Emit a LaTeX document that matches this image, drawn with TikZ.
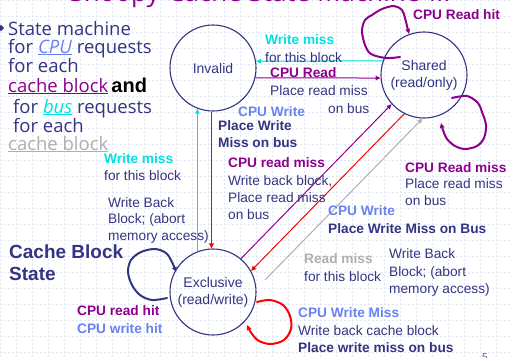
\documentclass[tikz,border=0pt]{standalone}
\usepackage{fontspec}
\setmainfont{Liberation Sans}
\newfontfamily\handfont{Open Sans}
\usetikzlibrary{arrows.meta,shapes.geometric}
\definecolor{navy}{RGB}{52,52,130}
\definecolor{plum}{RGB}{140,0,140}
\definecolor{aqua}{RGB}{0,225,225}
\definecolor{sky}{RGB}{105,130,240}
\definecolor{ash}{RGB}{175,175,175}
\definecolor{gridc}{RGB}{225,230,246}

\begin{document}
\begin{tikzpicture}[x=1pt,y=-1pt,
  lbl/.style={anchor=base west, inner sep=0, text=navy, font=\fontsize{13.7}{16}\selectfont},
  lblb/.style={lbl, font=\fontsize{13.7}{16}\selectfont\bfseries},
  hand/.style={anchor=base west, inner sep=0, text=navy, font=\handfont\fontsize{18.5}{20}\selectfont},
  state/.style={circle, draw=navy, line width=1.1pt, minimum size=86pt, inner sep=0pt,
    align=center, text=navy, font=\fontsize{14}{17}\selectfont},
  tip/.style={-{Triangle[length=5pt,width=4.5pt]}},
  edge/.style={tip, line width=1pt},
  loopline/.style={tip, line width=2pt, line cap=round, line join=round},
]
% page and background grid
\fill[white] (0,0) rectangle (511,357);
\useasboundingbox (0,0) rectangle (511,357);
\begin{scope}
  \clip (0,0) rectangle (511,357);
  \draw[gridc, line width=0.6pt, dash pattern=on 2pt off 2pt] (0,0) grid[step=16pt] (511,357);
  % slide title, only its lower part shows
  \node[anchor=base, inner sep=0, text=plum, font=\handfont\fontsize{26}{26}\selectfont]
    (title) at (260,1) {Snoopy-Cache State Machine-III};
  \node[anchor=base west, inner sep=0, text=navy!80, font=\fontsize{10}{10}\selectfont]
    (pagenum) at (482,360) {5};
\end{scope}

% description on the left
\node[diamond, fill=navy, inner sep=1.6pt] (bullet) at (1,28) {};
\node[hand] (l1) at (8,35) {State machine};
\node[hand] (l2) at (8,53) {for \textcolor{sky}{\underline{\textit{CPU}}} requests};
\node[hand] (l3) at (8,72) {for each};
\node[hand] (l4) at (8,92) {\textcolor{plum}{\underline{cache block}}\,\textcolor{black}{\normalfont\bfseries\fontsize{20}{20}\selectfont and}};
\node[hand] (l5) at (13,113) {for \textcolor{aqua}{\underline{\textit{bus}}} requests};
\node[hand] (l6) at (13,132) {for each};
\node[hand, text=ash] (l7) at (8,150) {\underline{cache block}};
\node[anchor=base west, inner sep=0, text=navy, font=\bfseries\fontsize{19}{22}\selectfont]
  (cbs1) at (9,258) {Cache Block};
\node[anchor=base west, inner sep=0, text=navy, font=\bfseries\fontsize{19}{22}\selectfont]
  (cbs2) at (9,280) {State};

% the three states
\node[state] (inv) at (213,68) {Invalid};
\node[state] (sh) at (424,75) {Shared\\(read/only)};
\node[state] (ex) at (213,292) {Exclusive\\(read/write)};

% transitions between states
\draw[edge, aqua] (sh.161) -- (inv.9.4);
\draw[edge, plum] (inv.-13.4) -- (sh.184);
\draw[edge, aqua] (ex.111.8) -- (inv.-111.8);
\draw[edge, red] (inv.-92.7) -- (ex.92.7);
\draw[edge, plum] (ex.50.4) -- (sh.222.4);
\draw[edge, red] (sh.243.4) -- (ex.29.4);
\coordinate (gstart) at (265,280);
\draw[edge, ash] (gstart) -- (sh.268.7);

% hand drawn self loops
\draw[loopline, plum] plot[smooth, tension=0.55] coordinates
  {(400,57) (386,58) (371,54) (365,45) (362,31) (365,20) (372,15) (382,9) (394,6) (402,10) (405,18) (407,26) (409,34)};
\draw[loopline, plum] plot[smooth, tension=0.55] coordinates
  {(452,98) (467,96) (478,103) (482,112) (486,125) (484,138) (477,146) (465,149) (455,146) (447,139) (443,130) (441,123)};
\draw[loopline, navy] plot[smooth, tension=0.55] coordinates
  {(167,298) (152,300) (140,295) (132,285) (128,272) (131,260) (141,252) (155,249) (166,253) (172,262) (176,272)};
\draw[loopline, red] plot[smooth, tension=0.55] coordinates
  {(257,302) (270,300) (283,305) (290,316) (291,329) (284,340) (271,344) (259,341) (252,334) (249,329) (247,325)};

% transition labels
\node[lblb, text=aqua] (wm1) at (265,44) {Write miss};
\node[lbl] (fb1) at (265,62) {for this block};
\node[lblb, text=plum] (cr) at (270,77) {CPU Read};
\node[lbl] (prm1) at (270,95) {Place read miss};
\node[lbl] (ob1) at (328,113) {on bus};
\node[lblb, text=plum] (crh) at (413,19) {CPU Read hit};

\node[lblb, text=sky] (cw1) at (238,116) {CPU Write};
\node[lblb] (pw) at (218,130) {Place Write};
\node[lblb] (mob) at (218,147) {Miss on bus};

\node[lblb, text=aqua] (wm2) at (104,163) {Write miss};
\node[lbl] (fb2) at (104,180) {for this block};
\node[lbl] (wb1) at (108,207) {Write Back};
\node[lbl] (bab1) at (108,223) {Block; (abort};
\node[lbl] (ma1) at (108,240) {memory access)};

\node[lblb, text=plum] (crm) at (228,167) {CPU read miss};
\node[lbl] (wbb) at (228,185) {Write back block,};
\node[lbl] (prm2) at (228,202) {Place read miss};
\node[lbl] (ob2) at (228,219) {on bus};

\node[lblb, text=plum] (crm2) at (405,172) {CPU Read miss};
\node[lbl] (prm3) at (405,188) {Place read miss};
\node[lbl] (ob3) at (405,205) {on bus};

\node[lblb, text=sky] (cw2) at (328,215) {CPU Write};
\node[lblb] (pwmb) at (328,233) {Place Write Miss on Bus};

\node[lblb, text=ash] (rm) at (304,263) {Read miss};
\node[lbl] (fb3) at (304,281) {for this block};
\node[lbl] (wb2) at (389,258) {Write Back};
\node[lbl] (bab2) at (389,276) {Block; (abort};
\node[lbl] (ma2) at (389,293) {memory access)};

\node[lblb, text=plum] (crhit) at (77,315) {CPU read hit};
\node[lblb, text=sky] (cwhit) at (77,333) {CPU write hit};

\node[lblb, text=sky] (cwm) at (298,317) {CPU Write Miss};
\node[lbl] (wbcb) at (298,335) {Write back cache block};
\node[lblb] (pwmob) at (298,352) {Place write miss on bus};
\end{tikzpicture}
\end{document}
